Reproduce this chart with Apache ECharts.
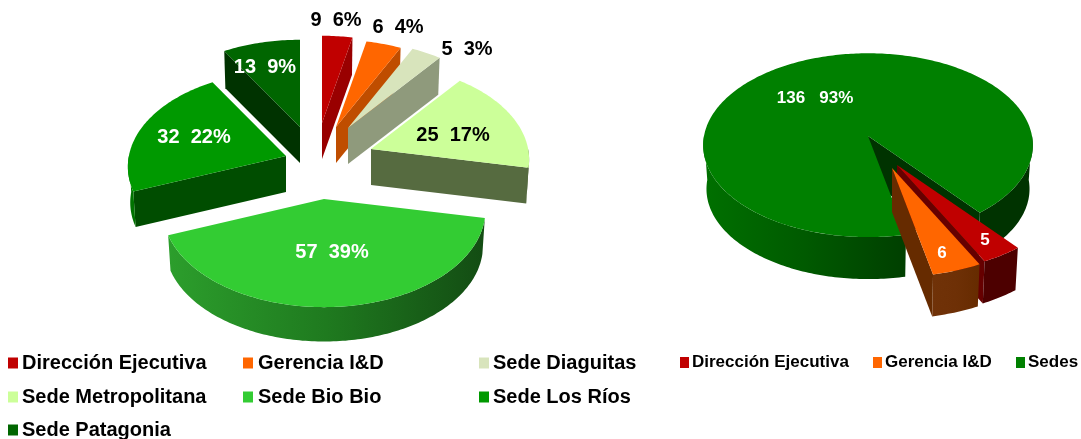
<!DOCTYPE html>
<html><head><meta charset="utf-8">
<style>html,body{margin:0;padding:0;background:#fff}#c{width:1081px;height:439px}</style>
<script src="https://cdn.jsdelivr.net/npm/echarts@6/dist/echarts.min.js"></script>
</head><body><div id="c"></div>
<script>
// ---- data ----
const leftCategories = ['Dirección Ejecutiva','Gerencia I&D','Sede Diaguitas','Sede Metropolitana','Sede Bio Bio','Sede Los Ríos','Sede Patagonia'];
const leftValues = [9,6,5,25,57,32,13];
const rightCategories = ['Dirección Ejecutiva','Gerencia I&D','Sedes'];
const rightValues = [5,6,136];

// ---- styles ----
const FONT = '"Liberation Sans", Arial, sans-serif';
const grad = (a,b,c) => ({type:'linear',x:0,y:0,x2:1,y2:0,colorStops:[{offset:0,color:a},{offset:.5,color:b},{offset:1,color:c}]});
const leftStyle = [
  {top:'#C00000',edge:'#990000',rim:'#800000',text:'#000'},
  {top:'#FF6600',edge:'#BF4D00',rim:'#BF4D00',text:'#000'},
  {top:'#D8E4BC',edge:'#8F9A7C',rim:'#8F9A7C',text:'#000'},
  {top:'#CCFF99',edge:'#566B40',rim:'#566B40',text:'#000'},
  {top:'#33CC33',edge:'#134C13',rim:grad('#2C9E2C','#1F7A1F','#134C13'),text:'#fff'},
  {top:'#009900',edge:'#004D00',rim:'#007300',text:'#fff'},
  {top:'#006600',edge:'#003300',rim:'#003300',text:'#fff'}
];
const rightStyle = [
  {top:'#C00000',edge:'#660000',rim:'#4D0000',text:'#fff'},
  {top:'#FF6600',edge:'#662B00',rim:grad('#703208','#6E3006','#662B00'),text:'#fff'},
  {top:'#008000',edge:'#003300',rim:grad('#007000','#005A00','#003F00'),text:'#fff'}
];

// ---- layout of each pie: projection, explosion, draw order, label nudges ----
const leftPie = {
  center:[323,147], S:162, B:97, t:.112, depth:36, bottomScale:.985, firstAngle:0,
  // projected-angle correction of the tilted view: [true angle, degrees removed]
  warp:[[0,0],[22,10],[36.7,10.7],[49,11],[110,9],[180,5],[250,1],[328,-1],[360,0]],
  offsets:[[-1,-24],[13,-20],[25,-19],[48,2],[1,52],[-37,9],[-23,-20]],
  scales:[1,1,1,.97,.99,.97,1],
  order:[0,1,2,3,6,5,4],
  labelAt:[[14,-103],[62,-100],[119,-79],[82,-14],[8,53],[-92,-19],[-35,-60]],
  font:20, sep:'  ', percent:[1,1,1,1,1,1,1],
  categories:leftCategories, values:leftValues, style:leftStyle
};
const rightPie = {
  center:[868,136], S:164, B:91, t:.1, depth:44, bottomScale:.98, firstAngle:141,
  warp:[[0,0],[360,0]],
  offsets:[[29,29],[24,32],[0,0]],
  scales:[1.08,1.08,1],
  order:[2,0,1],
  labelAt:[[88,75],[50,85],[-53,-38]],
  font:17, sep:'   ', percent:[0,0,1],
  categories:rightCategories, values:rightValues, style:rightStyle
};

// ---- geometry ----
function warpOf(pie, a){
  const k = pie.warp;
  for (let i=1;i<k.length;i++) if (a<=k[i][0]) {
    const f=(a-k[i-1][0])/(k[i][0]-k[i-1][0]);
    return k[i-1][1]+f*(k[i][1]-k[i-1][1]);
  }
  return 0;
}
function rimVec(pie, psi, s){
  const r=psi*Math.PI/180, w=1+pie.t*Math.cos(r);
  return [pie.S*Math.sin(r)/w*s, -pie.B*Math.cos(r)/w*s];
}
function arc(pie, a, from, to, s, dy){
  const pts=[], n=Math.max(2,Math.ceil(Math.abs(to-from)));
  for (let i=0;i<=n;i++){
    const v=rimVec(pie, from+(to-from)*i/n, s);
    pts.push([a[0]+v[0], a[1]+v[1]+dy]);
  }
  return pts;
}
function sliceElement(pie, i){
  const total=pie.values.reduce((x,y)=>x+y,0);
  let sum=0; for(let j=0;j<i;j++) sum+=pie.values[j];
  const a0=sum/total*360, a1=(sum+pie.values[i])/total*360;
  const psi=a=>a-warpOf(pie,a)+pie.firstAngle;
  const ps=psi(a0), pe=psi(a1);
  const st=pie.style[i], sc=pie.scales[i], D=pie.depth, bs=pie.bottomScale*sc;
  const A=[pie.center[0]+pie.offsets[i][0], pie.center[1]+pie.offsets[i][1]];
  const kids=[];
  const wall=(psiEdge)=>{
    const v=rimVec(pie,psiEdge,sc), w=rimVec(pie,psiEdge,bs);
    kids.push({type:'polygon',shape:{points:[A,[A[0]+v[0],A[1]+v[1]],[A[0]+w[0],A[1]+w[1]+D],[A[0],A[1]+D]]},
      style:{fill:st.edge}});
  };
  if (((ps%360)+360)%360>180) wall(ps);
  if (((pe%360)+360)%360<180) wall(pe);
  [[90,270],[450,630]].forEach(r=>{
    const f=Math.max(ps,r[0]), t=Math.min(pe,r[1]);
    if (t>f){
      const pts=arc(pie,A,f,t,sc,0).concat(arc(pie,A,t,f,bs,D));
      kids.push({type:'polygon',shape:{points:pts},style:{fill:r[0]>=360?st.edge:st.rim}});
    }
  });
  kids.push({type:'polygon',shape:{points:[A].concat(arc(pie,A,ps,pe,sc,0))},style:{fill:st.top}});
  const pct=Math.round(pie.values[i]/total*100)+'%';
  kids.push({type:'text',style:{
    text:pie.values[i]+(pie.percent[i]?pie.sep+pct:''),
    x:A[0]+pie.labelAt[i][0], y:A[1]+pie.labelAt[i][1],
    fill:st.text, align:'center', verticalAlign:'middle',
    font:'bold '+pie.font+'px '+FONT}});
  return {type:'group',children:kids};
}
function seriesOf(pie){
  return pie.order.map(i=>({
    type:'custom', name:pie.categories[i], coordinateSystem:'none', silent:true,
    animation:false, itemStyle:{color:pie.style[i].top},
    data:[[pie.values[i]]],
    renderItem:()=>sliceElement(pie,i)
  }));
}
function legendOf(name, pie, left, top, size, pad){
  return {left, top, orient:'horizontal', selectedMode:false, icon:'rect',
    itemWidth:size.w, itemHeight:size.h, padding:0,
    textStyle:{fontFamily:FONT,fontWeight:'bold',fontSize:size.font,color:'#000',padding:[0,0,0,pad]},
    data:[{name,itemStyle:{color:pie.style[pie.categories.indexOf(name)].top}}]};
}
const big={w:10,h:11,font:20}, small={w:9,h:11,font:17};
const L=leftCategories, R=rightCategories;
const chart=echarts.init(document.getElementById('c'),null,{renderer:'canvas'});
chart.setOption({
  backgroundColor:'#fff', animation:false,
  legend:[
    legendOf(L[0],leftPie,8,353,big,-1),
    legendOf(L[1],leftPie,243,353,big,0),
    legendOf(L[2],leftPie,479,353,big,-1),
    legendOf(L[3],leftPie,8,387,big,-1),
    legendOf(L[4],leftPie,243,387,big,0),
    legendOf(L[5],leftPie,479,387,big,-1),
    legendOf(L[6],leftPie,8,420,big,-1),
    legendOf(R[0],rightPie,680,354,small,-2),
    legendOf(R[1],rightPie,873,354,small,-2),
    legendOf(R[2],rightPie,1016,354,small,-2)
  ],
  series:seriesOf(leftPie).concat(seriesOf(rightPie))
});
</script></body></html>
